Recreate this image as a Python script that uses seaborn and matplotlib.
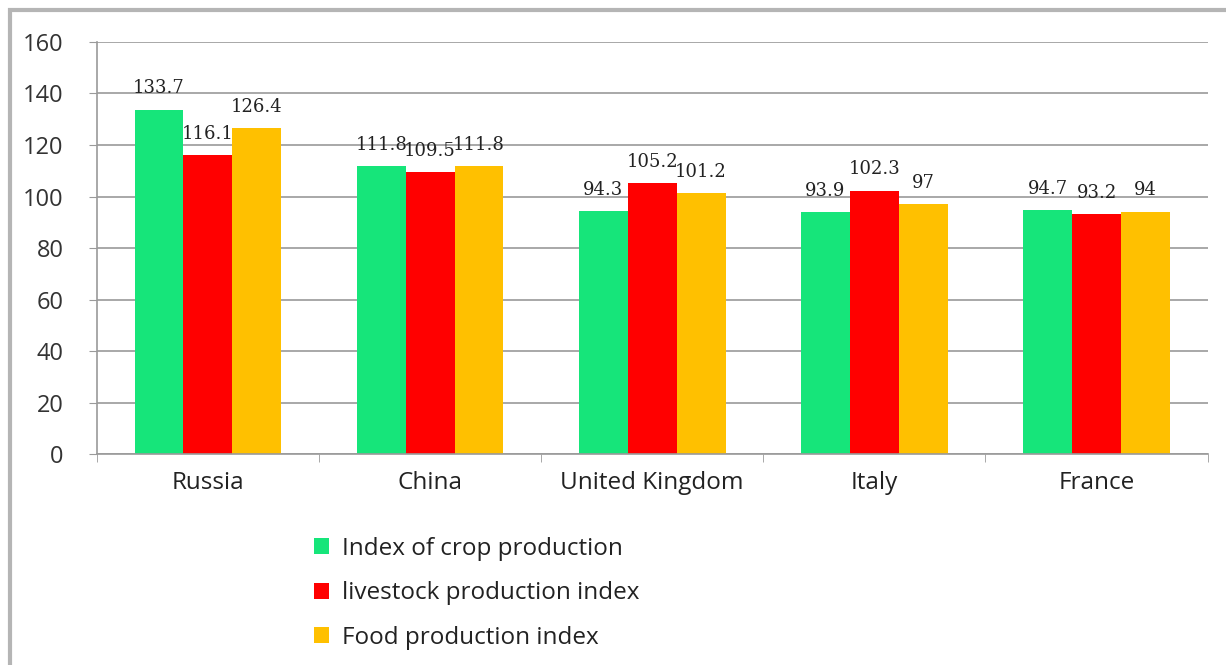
import matplotlib
matplotlib.use("Agg")
import matplotlib.pyplot as plt
import seaborn as sns
import pandas as pd
from matplotlib.patches import Rectangle, Patch

countries = ["Russia", "China", "United Kingdom", "Italy", "France"]
crop = [133.7, 111.8, 94.3, 93.9, 94.7]
livestock = [116.1, 109.5, 105.2, 102.3, 93.2]
food = [126.4, 111.8, 101.2, 97, 94]
series = ["Index of crop production", "livestock production index", "Food production index"]
colors = ["#16E57A", "#FF0000", "#FFC000"]

rows = []
for name, vals in zip(series, [crop, livestock, food]):
    for c, v in zip(countries, vals):
        rows.append({"country": c, "series": name, "value": v})
df = pd.DataFrame(rows)

sns.set_style("white")
plt.rcParams['font.family'] = ['Open Sans', 'DejaVu Sans']

fig = plt.figure(figsize=(12.26, 6.65), dpi=100)
ax = fig.add_axes([0.079, 0.317, 0.906, 0.62])

sns.barplot(data=df, x="country", y="value", hue="series", palette=colors,
            width=0.66, saturation=1, ax=ax, legend=False, errorbar=None,
            linewidth=0, edgecolor="none")

for cont in ax.containers:
    labels = [("%g" % b.get_height()) for b in cont]
    ax.bar_label(cont, labels=labels, padding=9, fontsize=13,
                 family="DejaVu Serif", color="#222222")

ax.set_ylim(0, 160)
ax.set_yticks(range(0, 161, 20))
ax.set_xlim(-0.5, 4.5)
ax.yaxis.grid(True, color="#9a9a9a", linewidth=1.2)
ax.set_axisbelow(True)
ax.set_xlabel("")
ax.set_ylabel("")
for s in ["top", "right"]:
    ax.spines[s].set_visible(False)
ax.spines["left"].set_color("#9a9a9a")
ax.spines["bottom"].set_color("#9a9a9a")
ax.spines["left"].set_linewidth(1.2)
ax.spines["bottom"].set_linewidth(1.2)
ax.tick_params(axis="y", labelsize=17, colors="#333333", length=6, color="#9a9a9a", left=True, pad=18)
ax.tick_params(axis="x", labelsize=17.5, colors="#222222", length=0, pad=12)
ax.set_xticks([-0.5, 0.5, 1.5, 2.5, 3.5, 4.5], minor=True)
ax.tick_params(axis="x", which="minor", length=6, color="#9a9a9a", bottom=True)

handles = [Patch(facecolor=c, edgecolor="none") for c in colors]
fig.legend(handles, series, loc="upper left", bbox_to_anchor=(0.238, 0.226),
           frameon=False, fontsize=17.5, handlelength=0.65, handleheight=0.65,
           handletextpad=0.5, labelspacing=0.85, labelcolor="#222222")

fig.patches.append(Rectangle((10/1226, -0.1), 1.2, 1 - 10/665 + 0.1,
                             transform=fig.transFigure, fill=False,
                             edgecolor="#b5b5b5", linewidth=3))

fig.savefig("out.png", dpi=100)
